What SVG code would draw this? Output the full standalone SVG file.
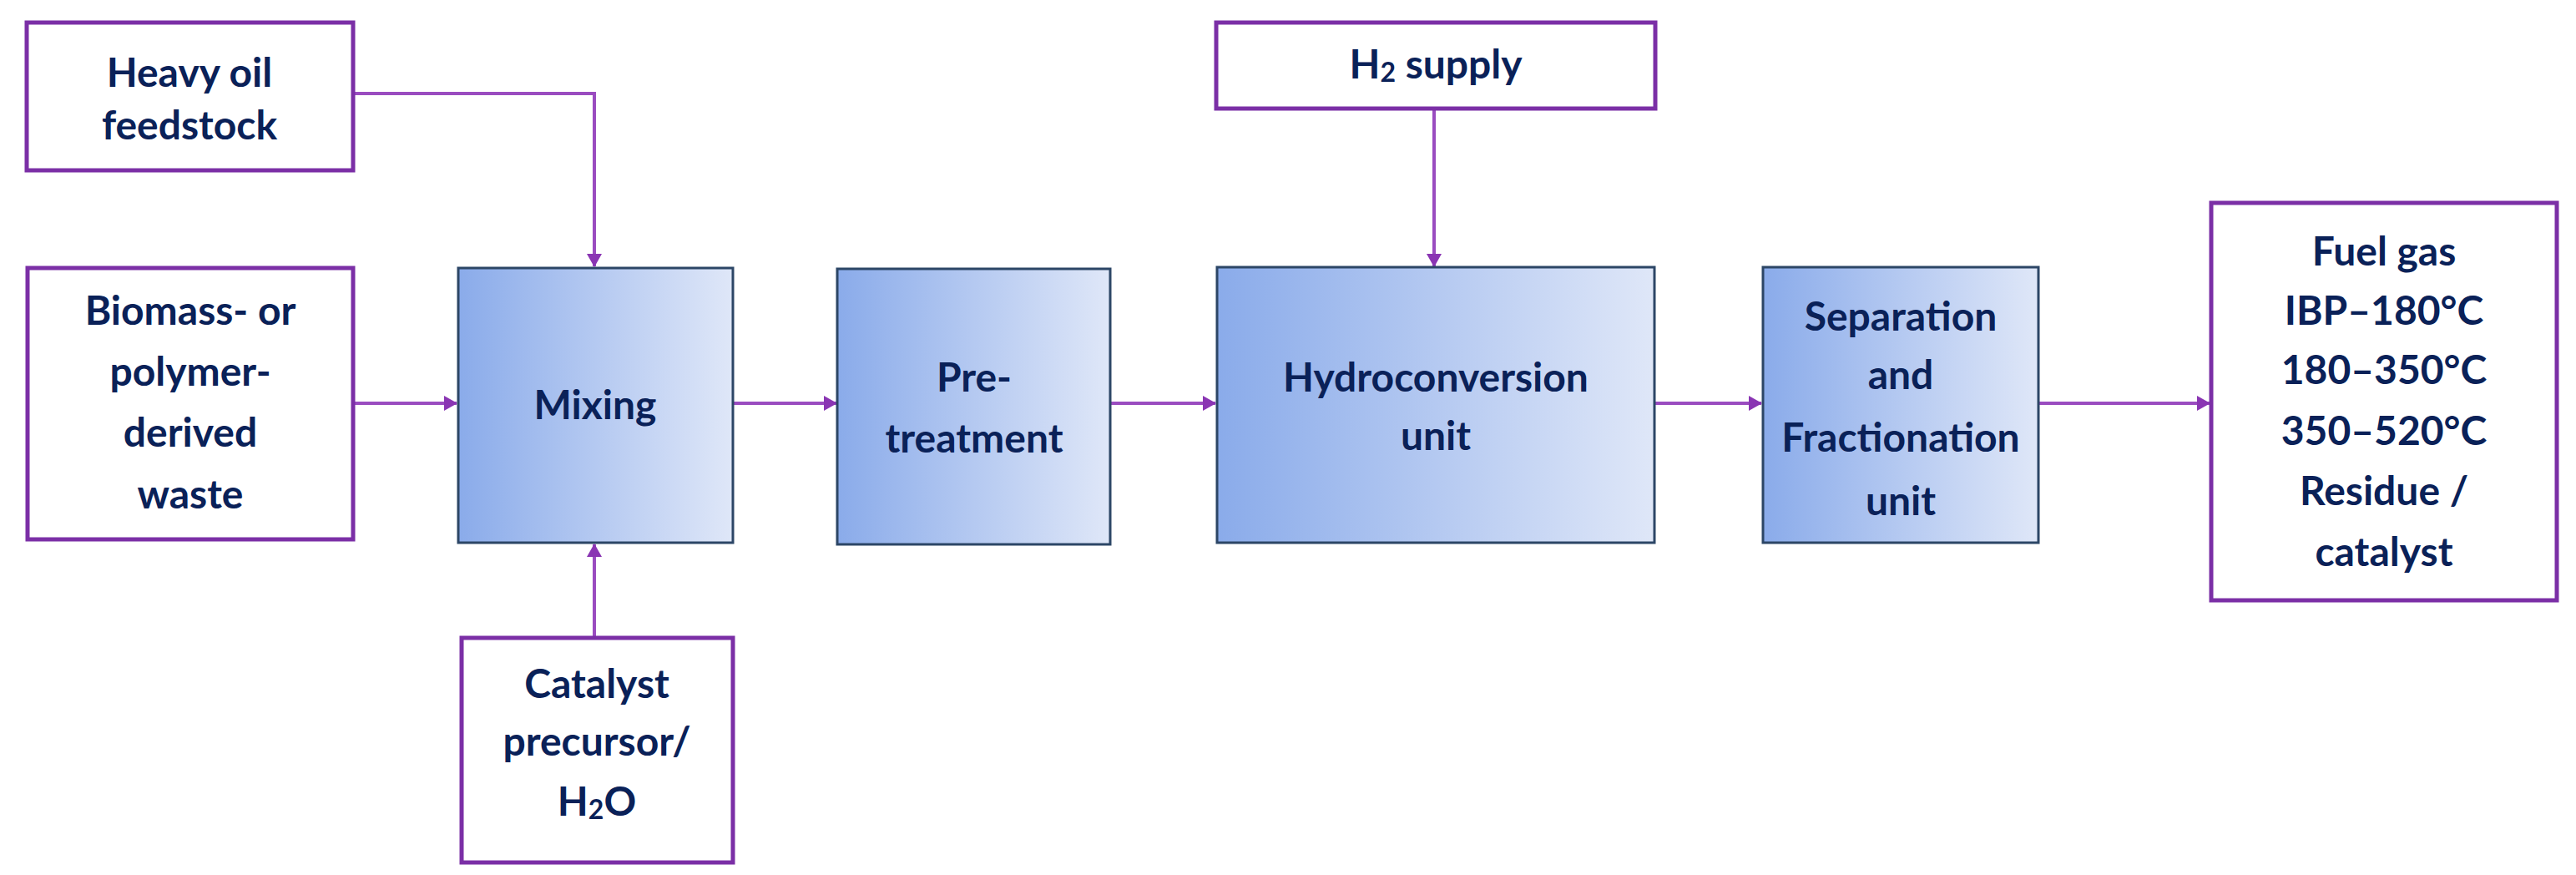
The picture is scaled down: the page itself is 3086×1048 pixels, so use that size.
<svg xmlns="http://www.w3.org/2000/svg" width="3086" height="1048" viewBox="0 0 3086 1048">
<style>
.src{fill:#fff;stroke:#7b2fa6;stroke-width:5}
.unit{fill:url(#g);stroke:#2c4666;stroke-width:3}
text{font-family:Lato,"Open Sans","Liberation Sans",sans-serif;font-weight:bold;font-size:48px;fill:#0a2158;text-anchor:middle;dominant-baseline:central}
.c{stroke:#9a4cc0;stroke-width:4;fill:none;marker-end:url(#a)}
</style>
<defs>
<linearGradient id="g" x1="0" x2="1" y1="0" y2="0"><stop offset="0" stop-color="#8aabea"/><stop offset="1" stop-color="#dfe7f8"/></linearGradient>
<marker id="a" markerWidth="16" markerHeight="18" refX="15" refY="9" orient="auto" markerUnits="userSpaceOnUse" viewBox="0 0 16 18"><path d="M0,0 L16,9 L0,18 z" fill="#8a35b3"/></marker>
</defs>
<g id="connectors">
<path class="c" d="M423,112 H712 V319"/>
<path class="c" d="M423,483 H547"/>
<path class="c" d="M712,764 V652"/>
<path class="c" d="M878,483 H1002"/>
<path class="c" d="M1330,483 H1456"/>
<path class="c" d="M1718,130 V319"/>
<path class="c" d="M1982,483 H2110"/>
<path class="c" d="M2442,483 H2647"/>
</g>
<g id="heavy-oil"><rect class="src" x="32" y="27" width="391" height="177"/><text x="227" y="85">Heavy oil</text><text x="227" y="148">feedstock</text></g>
<g id="biomass"><rect class="src" x="33" y="321" width="390" height="325"/><text x="228" y="370">Biomass- or</text><text x="228" y="443">polymer-</text><text x="228" y="516">derived</text><text x="228" y="590">waste</text></g>
<g id="mixing"><rect class="unit" x="549" y="321" width="329" height="329"/><text x="713" y="483">Mixing</text></g>
<g id="catalyst"><rect class="src" x="553" y="764" width="325" height="269"/><text x="715" y="817">Catalyst</text><text x="715" y="886">precursor/</text><text x="715" y="958">H<tspan font-size="32" dy="10">2</tspan><tspan dy="-10">O</tspan></text></g>
<g id="pretreatment"><rect class="unit" x="1003" y="322" width="327" height="330"/><text x="1167" y="450">Pre-</text><text x="1167" y="523">treatment</text></g>
<g id="h2"><rect class="src" x="1457" y="27" width="526" height="103"/><text x="1720" y="75">H<tspan font-size="32" dy="10">2</tspan><tspan dy="-10"> supply</tspan></text></g>
<g id="hydroconversion"><rect class="unit" x="1458" y="320" width="524" height="330"/><text x="1720" y="450">Hydroconversion</text><text x="1720" y="520">unit</text></g>
<g id="separation"><rect class="unit" x="2112" y="320" width="330" height="330"/><text x="2277" y="377">Separation</text><text x="2277" y="447">and</text><text x="2277" y="522">Fractionation</text><text x="2277" y="598">unit</text></g>
<g id="products"><rect class="src" x="2649" y="243" width="414" height="476"/><text x="2856" y="299">Fuel gas</text><text x="2856" y="370">IBP–180°C</text><text x="2856" y="441">180–350°C</text><text x="2856" y="514">350–520°C</text><text x="2856" y="586">Residue /</text><text x="2856" y="659">catalyst</text></g>
</svg>
